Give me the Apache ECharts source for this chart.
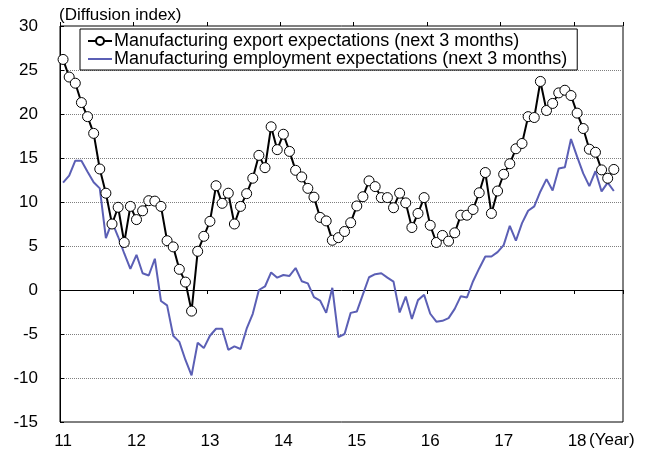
<!DOCTYPE html>
<html>
<head>
<meta charset="utf-8">
<script src="https://cdn.jsdelivr.net/npm/echarts@6/dist/echarts.min.js"></script>
<style>html,body{margin:0;padding:0;background:#fff}#c{width:650px;height:457px}</style>
</head>
<body>
<div id="c"></div>
<script>
const yearLabels = ['11','12','13','14','15','16','17','18'];
const monthsPerYear = 12;
const totalMonths = 92; // Jan 2011 .. Aug 2018 (axis extent)
const exportExp = [26.2,24.2,23.5,21.3,19.7,17.8,13.75,11.0,7.5,9.4,5.4,9.5,
  8.0,9.0,10.15,10.1,9.5,5.6,4.9,2.35,0.9,-2.4,4.4,6.1,
  7.8,11.85,9.85,11.0,7.5,9.5,10.95,12.7,15.3,13.9,18.55,15.95,
  17.7,15.75,13.6,12.85,11.55,10.55,8.25,7.85,5.65,5.95,6.65,7.65,
  9.55,10.6,12.4,11.75,10.5,10.5,9.35,11.0,9.9,7.1,8.7,10.5,
  7.35,5.4,6.2,5.55,6.5,8.5,8.5,9.15,11.05,13.35,8.7,11.25,
  13.15,14.35,16.05,16.65,19.7,19.6,23.7,20.4,21.2,22.4,22.7,22.1,
  20.1,18.35,16.0,15.65,13.65,12.7,13.7];
const employmentExp = [12.2,13.0,14.7,14.7,13.45,12.25,11.55,5.9,7.75,6.05,4.15,2.4,
  4.0,1.9,1.65,3.55,-1.25,-1.75,-5.2,-5.9,-7.95,-9.7,-6.0,-6.6,
  -5.2,-4.4,-4.4,-6.8,-6.4,-6.7,-4.4,-2.7,0.0,0.4,2.0,1.4,
  1.7,1.6,2.5,1.0,0.75,-0.8,-1.2,-2.6,0.25,-5.35,-5.0,-2.6,
  -2.45,-0.5,1.45,1.8,1.9,1.4,0.95,-2.55,-0.75,-3.3,-1.15,-0.55,
  -2.7,-3.6,-3.5,-3.2,-2.15,-0.7,-0.85,1.0,2.45,3.8,3.8,4.3,
  5.1,7.3,5.6,7.6,9.0,9.5,11.2,12.6,11.3,13.8,13.95,17.15,
  15.15,13.25,11.8,13.5,11.2,12.2,11.25];

const categories = [];
for (let i = 0; i < totalMonths; i++) {
  categories.push(yearLabels[Math.floor(i / monthsPerYear)] + '-' + (i % monthsPerYear + 1));
}

const seriesNames = ['Manufacturing export expectations (next 3 months)', 'Manufacturing employment expectations (next 3 months)'];
const font = '"Liberation Sans", Arial, sans-serif';
const chart = echarts.init(document.getElementById('c'), null, {renderer: 'canvas'});
const yearTick = function (i) { return i % monthsPerYear === 0; };
chart.setOption({
  animation: false,
  backgroundColor: '#fff',
  textStyle: {fontFamily: font},
  grid: {left: 60, right: 27, top: 26, bottom: 35, show: true, borderColor: '#000', borderWidth: 1, backgroundColor: 'transparent'},
  graphic: [
    {type: 'text', left: 59, top: 7, style: {text: '(Diffusion index)', font: '17px ' + font, fill: '#000'}},
    {type: 'text', left: 589, top: 432, style: {text: '(Year)', font: '17px ' + font, fill: '#000'}}
  ],
  legend: {
    left: 80, top: 29,
    orient: 'vertical',
    backgroundColor: '#fff',
    borderColor: '#000', borderWidth: 1,
    padding: [3, 10, 2, 7],
    itemGap: 0,
    itemWidth: 24, itemHeight: 10,
    textStyle: {fontSize: 18, fontFamily: font, color: '#000', lineHeight: 17, padding: [0, 0, 0, -3]},
    data: [
      {name: seriesNames[0]},
      {name: seriesNames[1], icon: 'path://M0,0 L24,0 L24,2 L0,2 Z'}
    ]
  },
  xAxis: [
    {type: 'category', data: categories, position: 'bottom', boundaryGap: true,
     axisLine: {show: false, onZero: false}, axisTick: {show: false},
     axisLabel: {interval: yearTick,
       formatter: function (v) { return v.split('-')[0]; },
       fontSize: 17, color: '#000', fontFamily: font, margin: 11},
     splitLine: {show: false}},
    {type: 'category', data: categories, position: 'bottom', boundaryGap: true,
     axisLine: {show: true, onZero: true, lineStyle: {color: '#000', width: 1}},
     axisTick: {show: true, inside: false, length: 4, lineStyle: {color: '#000'}, interval: yearTick},
     axisLabel: {show: false}, splitLine: {show: false}},
    {type: 'category', data: categories, position: 'top', boundaryGap: true,
     axisLine: {show: false, onZero: true},
     axisTick: {show: true, inside: false, length: 4, lineStyle: {color: '#000'}, interval: yearTick},
     axisLabel: {show: false}, splitLine: {show: false}}
  ],
  yAxis: {
    type: 'value', min: -15, max: 30, interval: 5,
    axisLine: {show: true, lineStyle: {color: '#000'}},
    axisTick: {show: true, inside: true, length: 4, lineStyle: {color: '#000'}},
    axisLabel: {fontSize: 17, color: '#000', fontFamily: font, margin: 22},
    splitLine: {show: true, lineStyle: {color: '#7f7f7f', type: 'dotted', width: 1}}
  },
  series: [
    {name: seriesNames[0], type: 'line', xAxisIndex: 1,
     data: exportExp, symbol: 'circle', symbolSize: 10, showAllSymbol: true,
     lineStyle: {color: '#000', width: 2},
     itemStyle: {color: '#fff', borderColor: '#000', borderWidth: 1},
     z: 3},
    {name: seriesNames[1], type: 'line', xAxisIndex: 1,
     data: employmentExp, symbol: 'none', showSymbol: false,
     lineStyle: {color: '#5b5fb5', width: 2},
     itemStyle: {color: '#5b5fb5'},
     z: 2}
  ]
});
</script>
</body>
</html>
